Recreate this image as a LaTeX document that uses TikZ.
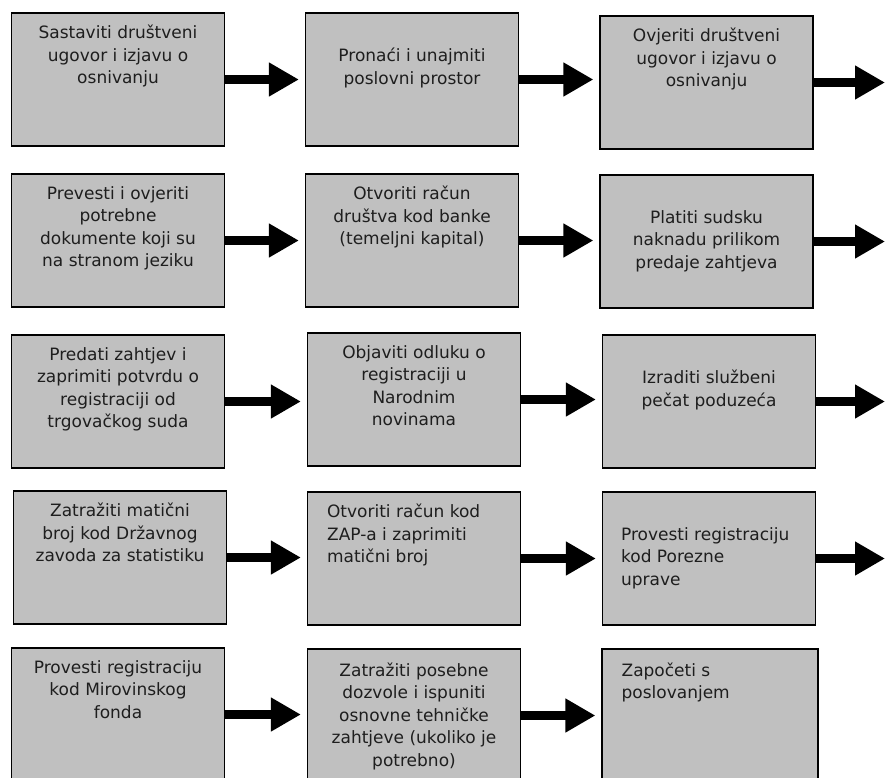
\documentclass[tikz,border=0pt]{standalone}
\usepackage{fontspec}
\usetikzlibrary{arrows.meta,positioning}
\newfontfamily\boxfont{DejaVu Sans}
\definecolor{boxG}{RGB}{192,192,192}
\definecolor{txtK}{RGB}{30,30,30}

\begin{document}
\begin{tikzpicture}[x=1pt,y=-1pt,
  stepbox/.style={draw,line width=1.2pt,fill=boxG,minimum width=213pt,minimum height=133pt,inner sep=0pt},
  stxt/.style={align=center,inner sep=0pt,text=txtK,font={\boxfont\fontsize{17}{22.5}\selectfont},execute at begin node=\strut},
  ltxt/.style={stxt,align=left},
  flow/.style={-{Triangle[length=30pt,width=32pt]},line width=9pt,shorten >=6pt}]
\clip (0,0) rectangle (885,777);
% row 1
\node[stepbox] (a1) at (118,79.5) {};
\node[stepbox] (a2) at (412,79.5) {};
\node[stepbox] (a3) at (706.5,82.5) {};
\node[stxt,below=12.6pt of a1.north] (a1t) {Sastaviti društveni\\ugovor i izjavu o\\osnivanju};
\node[stxt,below=35.6pt of a2.north] (a2t) {Pronaći i unajmiti\\poslovni prostor};
\node[stxt,below=12.6pt of a3.north] (a3t) {Ovjeriti društveni\\ugovor i izjavu o\\osnivanju};
% row 2
\node[stepbox] (b1) at (118,240.5) {};
\node[stepbox] (b2) at (412,240.5) {};
\node[stepbox] (b3) at (706.5,241.5) {};
\node[stxt,below=12.6pt of b1.north] (b1t) {Prevesti i ovjeriti\\potrebne\\dokumente koji su\\na stranom jeziku};
\node[stxt,below=12.6pt of b2.north] (b2t) {Otvoriti račun\\društva kod banke\\(temeljni kapital)};
\node[stxt,below=35.6pt of b3.north] (b3t) {Platiti sudsku\\naknadu prilikom\\predaje zahtjeva};
% row 3
\node[stepbox] (c1) at (118,401.5) {};
\node[stepbox] (c2) at (414,399.5) {};
\node[stepbox] (c3) at (709,401.5) {};
\node[stxt,below=12.6pt of c1.north] (c1t) {Predati zahtjev i\\zaprimiti potvrdu o\\registraciji od\\trgovačkog suda};
\node[stxt,below=12.6pt of c2.north] (c2t) {Objaviti odluku o\\registraciji u\\Narodnim\\novinama};
\node[stxt,below=35.6pt of c3.north] (c3t) {Izraditi službeni\\pečat poduzeća};
% row 4
\node[stepbox] (d1) at (120,557.5) {};
\node[stepbox] (d2) at (414,558.5) {};
\node[stepbox] (d3) at (709,558.5) {};
\node[stxt,below=12.6pt of d1.north] (d1t) {Zatražiti matični\\broj kod Državnog\\zavoda za statistiku};
\node[ltxt,below right=12.6pt and 20pt of d2.north west] (d2t) {Otvoriti račun kod\\ZAP-a i zaprimiti\\matični broj};
\node[ltxt,below right=35.6pt and 19pt of d3.north west] (d3t) {Provesti registraciju\\kod Porezne\\uprave};
% row 5
\node[stepbox] (e1) at (118,714.5) {};
\node[stepbox] (e2) at (414,715.5) {};
\node[stepbox,minimum width=216pt] (e3) at (710,715.5) {};
\node[stxt,below=12.6pt of e1.north] (e1t) {Provesti registraciju\\kod Mirovinskog\\fonda};
\node[stxt,below=14pt of e2.north] (e2t) {Zatražiti posebne\\dozvole i ispuniti\\osnovne tehničke\\zahtjeve (ukoliko je\\potrebno)};
\node[ltxt,below right=14pt and 20pt of e3.north west] (e3t) {Započeti s\\poslovanjem};

\coordinate (a3x) at (885,82.5);
\coordinate (b3x) at (885,241.5);
\coordinate (c3x) at (885,401.5);
\coordinate (d3x) at (885,558.5);

\foreach \r in {a,b,c,d,e}{
  \draw[flow] (\r1.east) -- (\r1.east -| \r2.west);
  \draw[flow] (\r2.east) -- (\r2.east -| \r3.west);
}
\foreach \r in {a,b,c,d}
  \draw[flow,shorten >=0pt] (\r3.east) -- (\r3x);
\end{tikzpicture}
\end{document}
